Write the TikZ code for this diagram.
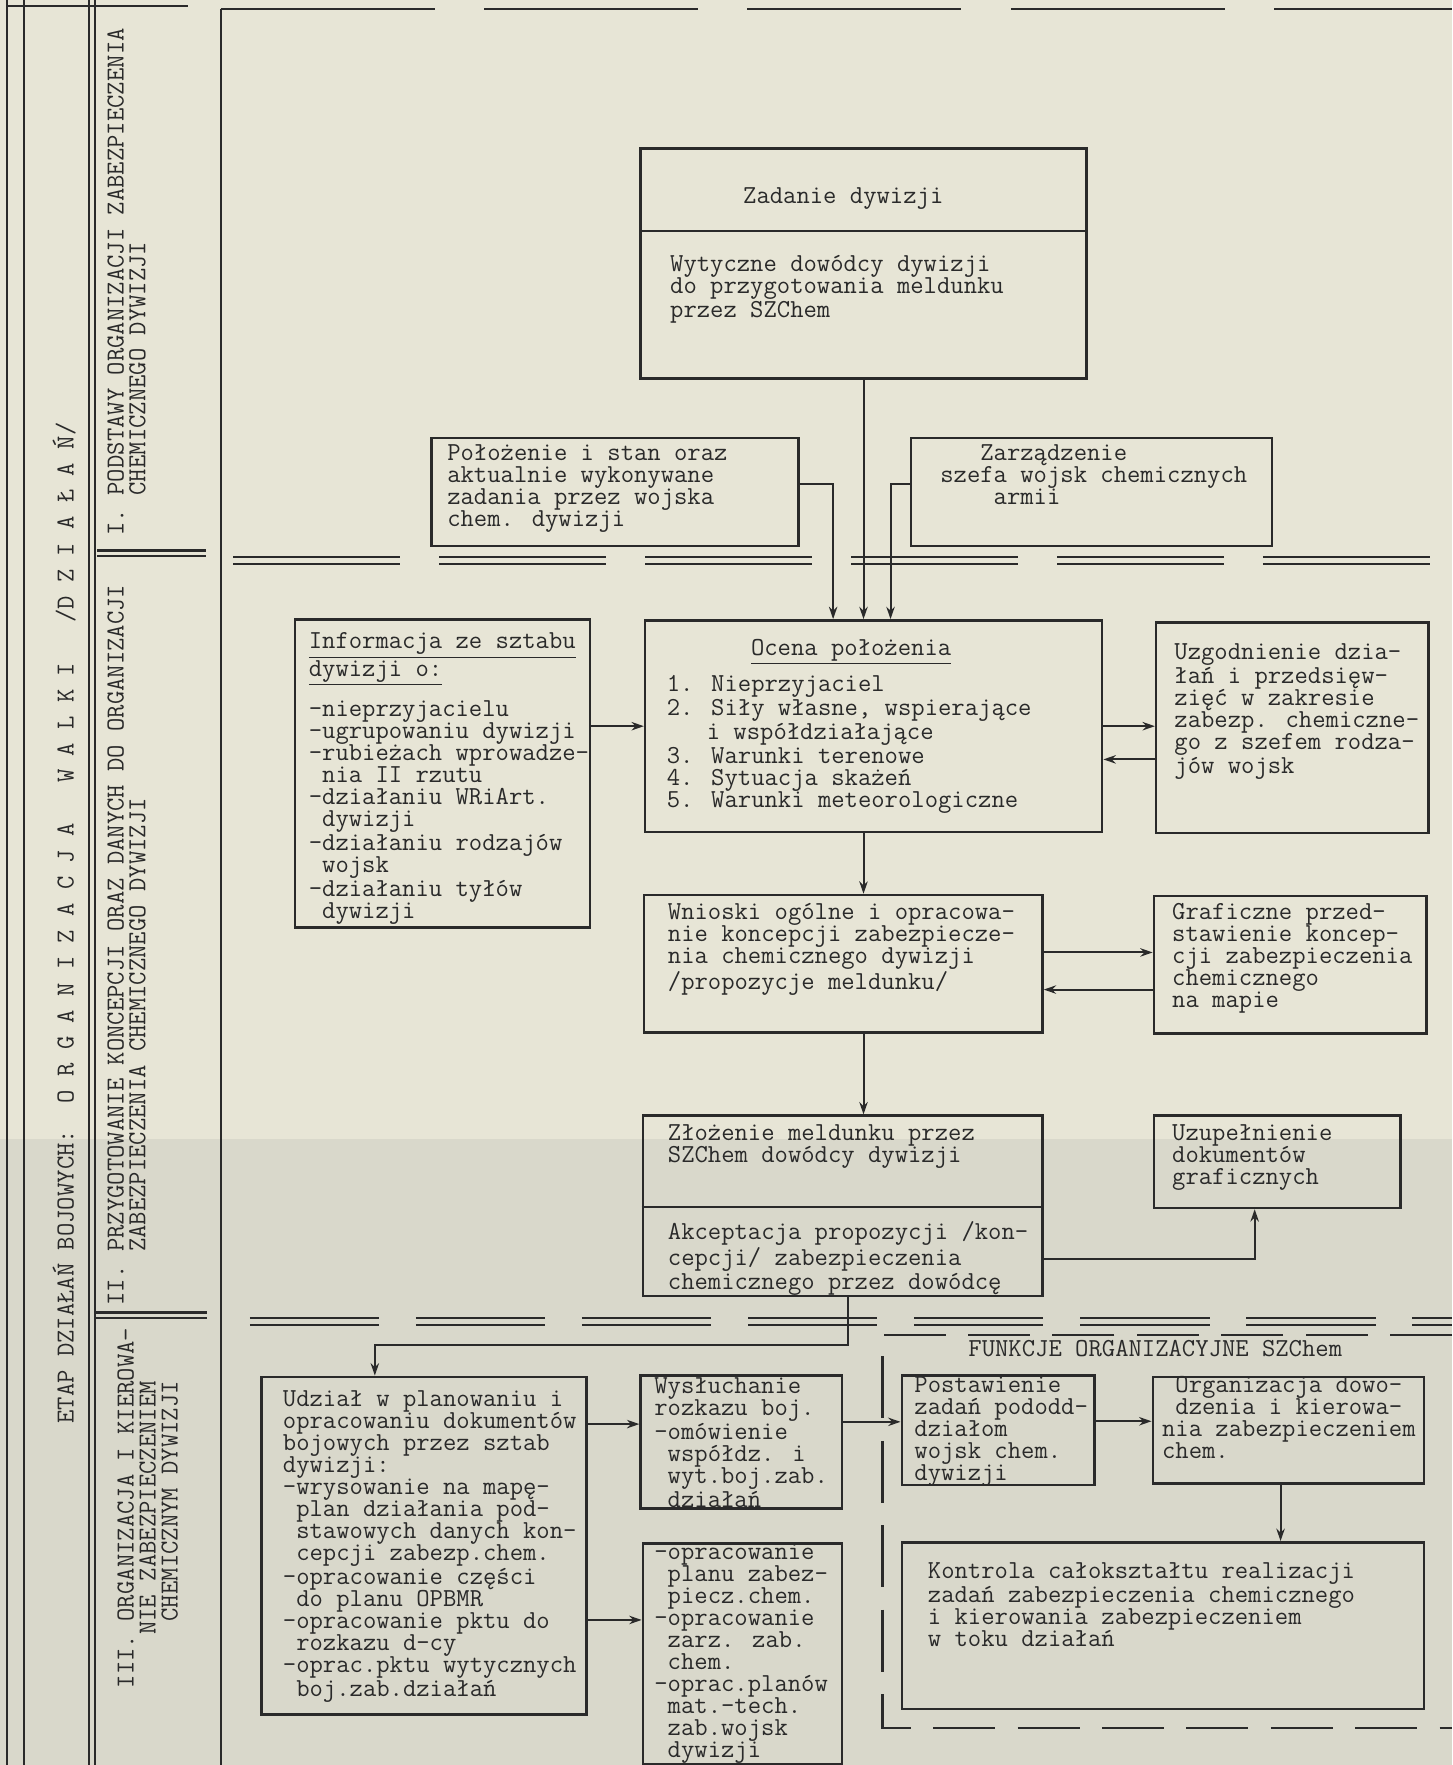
\documentclass[tikz,border=0pt]{standalone}
\usetikzlibrary{calc,arrows.meta}
\definecolor{ink}{HTML}{2A2A2A}
\definecolor{paper}{HTML}{E7E5D6}
\definecolor{papershade}{HTML}{D9D8CB}
\newcommand\typewr{\ttfamily\fontsize{13.1pt}{11.1pt}\selectfont}
\tikzset{
  box/.style={draw=ink, line width=0.45mm, rectangle, inner sep=0pt, anchor=north west},
  txt/.style={anchor=north west, inner sep=0pt, align=left, text=ink, font=\typewr,
              execute at begin node={\rule{0pt}{2.9mm}}},
  sidetxt/.style={rotate=90, anchor=north west, inner sep=0pt, align=left, text=ink, font=\typewr},
  conn/.style={draw=ink, line width=0.35mm, -{Stealth[length=2.2mm,width=1.5mm]}},
  frameline/.style={draw=ink, line width=0.4mm},
}
\begin{document}
\begin{tikzpicture}[x=0.2mm, y=-0.2mm]
        % Definicje
        \def\pageright{1290}
        \def\pagebottom{1568}
        \def\sepA{495}
        \def\sepB{1171}
        % Tlo
        \fill[paper] (0,0) rectangle (\pageright,1012);
        \fill[papershade] (0,1012) rectangle (\pageright,\pagebottom);
        \useasboundingbox (0,0) rectangle (\pageright,\pagebottom);
        % Pas boczny
        \foreach \xx in {6.5,21,79,84.5} \draw[frameline] (\xx,0) -- (\xx,\pagebottom);
        \draw[frameline] (6.5,5) -- (167,5);
        \foreach \yy in {489,494} \draw[frameline] (86,\yy) -- (183,\yy);
        \foreach \yy in {1166,1171} \draw[frameline] (84,\yy) -- (184,\yy);
        \node[sidetxt, anchor=west] (etap) at (57,1265)
            {ETAP DZIAŁAŃ BOJOWYCH:~~O~R~G~A~N~I~Z~A~C~J~A~~~W~A~L~K~I~~~/D~Z~I~A~Ł~A~Ń/};
        \node[sidetxt] (sekcjaI) at (95,476) {I. PODSTAWY ORGANIZACJI ZABEZPIECZENIA\\~~~CHEMICZNEGO DYWIZJI};
        \node[sidetxt] (sekcjaII) at (95,1160) {II. PRZYGOTOWANIE KONCEPCJI ORAZ DANYCH DO ORGANIZACJI\\~~~~ZABEZPIECZENIA CHEMICZNEGO DYWIZJI};
        \node[sidetxt] (sekcjaIII) at (104,1500) {III. ORGANIZACJA I KIEROWA-\\~~~~NIE ZABEZPIECZENIEM\\~~~~~CHEMICZNYM DYWIZJI};
        % Ramka glowna
        \draw[frameline] (196,8) -- (196,\pagebottom);
        \draw[frameline, dash pattern=on 38mm off 8.8mm] (196,8) -- (\pageright,8);
        % Linie podzialu
        \foreach \dy in {0,6} \draw[frameline, dash pattern=on 29.6mm off 7mm] (207,\sepA+\dy) -- (\pageright,\sepA+\dy);
        \foreach \dy in {0,6} \draw[frameline, dash pattern=on 23mm off 6.5mm] (222,\sepB+\dy) -- (\pageright,\sepB+\dy);
        % Zadanie dywizji
        \node[box, minimum width=79.2mm, minimum height=40.8mm] (zadanie) at (568,131) {};
        \draw[frameline] ($(zadanie.north west)+(0,74)$) -- ($(zadanie.north east)+(0,74)$);
        \node[txt, anchor=center] (zadanieT) at ($(zadanie.north)+(-18,45)$) {Zadanie dywizji};
        \node[txt] (wytyczne) at ($(zadanie.north west)+(27,95.5)$) {Wytyczne dowódcy dywizji\\do przygotowania meldunku\\przez SZChem};
        % Polozenie
        \node[box, minimum width=65.2mm, minimum height=19.2mm] (polozenie) at (382,388) {};
        \node[txt] (polozenieT) at ($(polozenie.north west)+(15,6.5)$) {Położenie i stan oraz\\aktualnie wykonywane\\zadania przez wojska\\chem. dywizji};
        % Zarzadzenie
        \node[box, minimum width=64.2mm, minimum height=19.2mm] (zarzadzenie) at (808,388) {};
        \node[txt] (zarzadzenieT) at ($(zarzadzenie.north west)+(27,6.5)$) {~~~Zarządzenie\\szefa wojsk chemicznych\\~~~~armii};
        % Informacja
        \node[box, minimum width=52.4mm, minimum height=54.8mm] (informacja) at (261,549) {};
        \node[txt] (informacjaT) at ($(informacja.north west)+(13,12.5)$) {\underline{Informacja ze sztabu}\\\underline{dywizji o:}\\[2.3mm]-nieprzyjacielu\\-ugrupowaniu dywizji\\-rubieżach wprowadze-\\~nia II rzutu\\-działaniu WRiArt.\\~dywizji\\-działaniu rodzajów\\~wojsk\\-działaniu tyłów\\~dywizji};
        % Ocena polozenia
        \node[box, minimum width=81.2mm, minimum height=37.6mm] (ocena) at (572,550) {};
        \node[txt, anchor=center] (ocenaTytul) at ($(ocena.north)+(-20,29)$) {\underline{Ocena położenia}};
        \node[txt] (ocenaT) at ($(ocena.north west)+(20,49.5)$) {1. Nieprzyjaciel\\2. Siły własne, wspierające\\~~~i współdziałające\\3. Warunki terenowe\\4. Sytuacja skażeń\\5. Warunki meteorologiczne};
        % Uzgodnienie
        \node[box, minimum width=48.4mm, minimum height=37.4mm] (uzgodnienie) at (1026,552) {};
        \node[txt] (uzgodnienieT) at ($(uzgodnienie.north west)+(17,19.5)$) {Uzgodnienie dzia-\\łań i przedsięw-\\zięć w zakresie\\zabezp. chemiczne-\\go z szefem rodza-\\jów wojsk};
        % Wnioski
        \node[box, minimum width=70.8mm, minimum height=24.4mm] (wnioski) at (571,794) {};
        \node[txt] (wnioskiT) at ($(wnioski.north west)+(22,8.5)$) {Wnioski ogólne i opracowa-\\nie koncepcji zabezpiecze-\\nia chemicznego dywizji\\/propozycje meldunku/};
        % Graficzne przedstawienie
        \node[box, minimum width=48.4mm, minimum height=24.4mm] (graficzne) at (1024,795) {};
        \node[txt] (graficzneT) at ($(graficzne.north west)+(17,7.5)$) {Graficzne przed-\\stawienie koncep-\\cji zabezpieczenia\\chemicznego\\na mapie};
        % Zlozenie meldunku
        \node[box, minimum width=71mm, minimum height=32mm] (zlozenie) at (570,990) {};
        \draw[frameline] ($(zlozenie.north west)+(0,82)$) -- ($(zlozenie.north east)+(0,82)$);
        \node[txt] (zlozenieT) at ($(zlozenie.north west)+(23,8.5)$) {Złożenie meldunku przez\\SZChem dowódcy dywizji};
        \node[txt] (akceptacjaT) at ($(zlozenie.north west)+(23,95)$) {Akceptacja propozycji /kon-\\cepcji/ zabezpieczenia\\chemicznego przez dowódcę};
        % Uzupelnienie
        \node[box, minimum width=43.8mm, minimum height=16.4mm] (uzupelnienie) at (1024,990) {};
        \node[txt] (uzupelnienieT) at ($(uzupelnienie.north west)+(17,8.5)$) {Uzupełnienie\\dokumentów\\graficznych};
        % Udzial w planowaniu
        \node[box, minimum width=57.8mm, minimum height=60mm] (udzial) at (231,1222) {};
        \node[txt] (udzialT) at ($(udzial.north west)+(20,13.5)$) {Udział w planowaniu i\\opracowaniu dokumentów\\bojowych przez sztab\\dywizji:\\-wrysowanie na mapę-\\~plan działania pod-\\~stawowych danych kon-\\~cepcji zabezp.chem.\\-opracowanie części\\~do planu OPBMR\\-opracowanie pktu do\\~rozkazu d-cy\\-oprac.pktu wytycznych\\~boj.zab.działań};
        % Wysluchanie rozkazu
        \node[box, minimum width=35.8mm, minimum height=23.6mm] (wysluchanie) at (568,1221) {};
        \node[txt] (wysluchanieT) at ($(wysluchanie.north west)+(13,2.5)$) {Wysłuchanie\\rozkazu boj.\\-omówienie\\~współdz. i\\~wyt.boj.zab.\\~działań};
        % Opracowanie planow
        \node[box, minimum width=35.4mm, minimum height=39.2mm] (opracowanie) at (570,1370) {};
        \node[txt] (opracowanieT) at ($(opracowanie.north west)+(11,1.5)$) {-opracowanie\\~planu zabez-\\~piecz.chem.\\-opracowanie\\~zarz. zab.\\~chem.\\-oprac.planów\\~mat.-tech.\\~zab.wojsk\\~dywizji};
        % Funkcje organizacyjne
        \draw[frameline, dash pattern=on 11mm off 4mm] (\pageright,1186) -- (784,1186) -- (784,1535) -- (\pageright,1535);
        \node[txt] (funkcjeT) at (860,1190.5) {FUNKCJE ORGANIZACYJNE SZChem};
        \node[box, minimum width=34.2mm, minimum height=19.4mm] (postawienie) at (800,1221) {};
        \node[txt] (postawienieT) at ($(postawienie.north west)+(12,1.5)$) {Postawienie\\zadań pododd-\\działom\\wojsk chem.\\dywizji};
        \node[box, minimum width=48.2mm, minimum height=19mm] (organizacja) at (1023,1222) {};
        \node[txt] (organizacjaT) at ($(organizacja.north west)+(9,0.5)$) {~Organizacja dowo-\\~dzenia i kierowa-\\nia zabezpieczeniem\\chem.};
        \node[box, minimum width=92.8mm, minimum height=29.6mm] (kontrola) at (800,1369) {};
        \node[txt] (kontrolaT) at ($(kontrola.north west)+(24,18.5)$) {Kontrola całokształtu realizacji\\zadań zabezpieczenia chemicznego\\i kierowania zabezpieczeniem\\w toku działań};
        % Polaczenia
        \draw[conn] (zadanie.south) -- (zadanie.south |- ocena.north);
        \draw[conn] ($(polozenie.east)+(0,-7)$) -| ($(zadanie.south |- ocena.north)+(-27,0)$);
        \draw[conn] ($(zarzadzenie.west)+(0,-7)$) -| ($(zadanie.south |- ocena.north)+(24,0)$);
        \draw[conn] (informacja.east |- ocena.west) -- (ocena.west);
        \draw[conn] (ocena.east) -- (ocena.east -| uzgodnienie.west);
        \draw[conn] ($(uzgodnienie.west)+(0,28)$) coordinate (z1) -- (z1 -| ocena.east);
        \draw[conn] (ocena.south -| zadanie.south) -- (wnioski.north -| zadanie.south);
        \draw[conn] ($(wnioski.east)+(0,-10)$) coordinate (w1) -- (w1 -| graficzne.west);
        \draw[conn] ($(graficzne.west)+(0,22)$) coordinate (g1) -- (g1 -| wnioski.east);
        \draw[conn] (wnioski.south -| zadanie.south) -- (zlozenie.north -| zadanie.south);
        \draw[conn] ($(zlozenie.east)+(0,47)$) -| ($(uzupelnienie.south)+(-20,0)$);
        \draw[conn] ($(zlozenie.south)+(5,0)$) |- ($(udzial.north west)+(102,-27)$) -- ($(udzial.north west)+(102,0)$);
        \path ($(wysluchanie.west)+(0,-16)$) coordinate (u1);
        \draw[conn] (u1 -| udzial.east) -- (u1);
        \path ($(opracowanie.west)+(0,-30)$) coordinate (u2);
        \draw[conn] (u2 -| udzial.east) -- (u2);
        \draw[conn] ($(wysluchanie.east)+(0,-18)$) coordinate (p1) -- (p1 -| postawienie.west);
        \draw[conn] ($(postawienie.east)+(0,-8)$) coordinate (p2) -- (p2 -| organizacja.west);
        \draw[conn] ($(organizacja.south)+(-7,0)$) coordinate (o1) -- (o1 |- kontrola.north);
    \end{tikzpicture}
\end{document}
